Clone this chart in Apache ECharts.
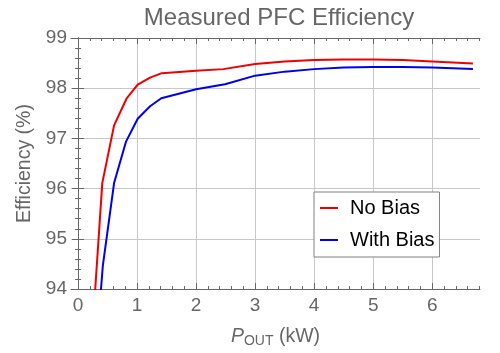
<!DOCTYPE html>
<html>
<head>
<meta charset="utf-8">
<script src="https://cdn.jsdelivr.net/npm/echarts@6/dist/echarts.min.js"></script>
<style>
  html, body { margin: 0; padding: 0; background: #fff; }
  #chart { width: 500px; height: 353px; }
</style>
</head>
<body>
<div id="chart"></div>
<script>
// measured efficiency curves (P_OUT in kW, efficiency in %)
const noBiasX = [0.2, 0.41, 0.61, 0.82, 1.01, 1.22, 1.42, 2.0, 2.46, 3.0, 3.5, 4.0, 4.5, 5.0, 5.5, 6.0, 6.69]
const noBiasY = [92.4, 96.11, 97.26, 97.79, 98.07, 98.21, 98.30, 98.35, 98.38, 98.48, 98.53, 98.56, 98.57, 98.57, 98.56, 98.53, 98.49]
const withBiasX = [0.3, 0.42, 0.61, 0.81, 1.01, 1.22, 1.41, 2.0, 2.49, 3.0, 3.5, 4.0, 4.5, 5.0, 5.5, 6.0, 6.69]
const withBiasY = [92.7, 94.47, 96.11, 96.93, 97.39, 97.64, 97.80, 97.98, 98.08, 98.25, 98.33, 98.38, 98.41, 98.42, 98.42, 98.41, 98.38]

const xMajor = [0, 1, 2, 3, 4, 5, 6]
const xMinor = []
for (let i = 0; i <= 34; i++) xMinor.push(+(i * 0.2).toFixed(1))

const gray = '#666'
const font = 'Liberation Sans, Arial, sans-serif'

const zip = (xs, ys) => xs.map((x, i) => [x, ys[i]])

const chart = echarts.init(document.getElementById('chart'))

// frame axes (Mathematica style ticks on all four sides)
const frameX = (pos, ticks, len, extra) => Object.assign({
  type: 'value',
  position: pos,
  min: -0.12,
  max: 6.81,
  axisLine: { show: true, onZero: false, lineStyle: { color: gray, width: 1 } },
  axisTick: { show: true, inside: true, length: len, customValues: ticks, lineStyle: { color: gray } },
  axisLabel: { show: false },
  splitLine: { show: false }
}, extra || {})

const frameY = (pos, extra) => Object.assign({
  type: 'value',
  position: pos,
  min: 94,
  max: 99,
  interval: 1,
  axisLine: { show: true, lineStyle: { color: gray, width: 1 } },
  axisTick: { show: true, inside: true, length: 6, lineStyle: { color: gray } },
  minorTick: { show: true, splitNumber: 5, length: 3, lineStyle: { color: gray } },
  axisLabel: { show: false },
  splitLine: { show: false }
}, extra || {})

chart.setOption({
  animation: false,
  backgroundColor: '#fff',
  textStyle: { fontFamily: font },
  title: {
    text: 'Measured PFC Efficiency',
    left: 274,
    textAlign: 'center',
    top: 1,
    textStyle: { fontSize: 24, fontWeight: 'normal', color: gray, fontFamily: font }
  },
  grid: { left: 71, right: 20, top: 38, bottom: 61 },
  legend: {
    orient: 'vertical',
    left: 314,
    top: 192,
    padding: [6, 5, 7, 6],
    itemGap: 12,
    itemWidth: 18,
    itemHeight: 2,
    icon: 'rect',
    borderColor: '#808080',
    borderWidth: 1,
    backgroundColor: '#fff',
    textStyle: { fontSize: 20, color: '#000', fontFamily: font, padding: [0, 0, 0, 7] },
    data: ['No Bias', 'With Bias']
  },
  xAxis: [
    frameX('bottom', xMajor, 6, {
      name: '{p|P}{s|OUT} (kW)',
      nameLocation: 'middle',
      nameGap: 37,
      nameTextStyle: {
        fontSize: 19.5, color: gray, fontFamily: font,
        rich: {
          p: { fontSize: 19.5, fontStyle: 'italic', color: gray, fontFamily: font },
          s: { fontSize: 14, color: gray, fontFamily: font, verticalAlign: 'bottom', padding: [8, 0, 0, 0] }
        }
      },
      axisLabel: { show: true, customValues: xMajor, fontSize: 19, color: gray, margin: 7, fontFamily: font },
      splitLine: { show: true, lineStyle: { color: '#c8c8c8', width: 1 } }
    }),
    frameX('bottom', xMinor, 3, { axisLine: { show: false } }),
    frameX('top', xMajor, 6),
    frameX('top', xMinor, 3, { axisLine: { show: false } })
  ],
  yAxis: [
    frameY('left', {
      name: 'Efficiency (%)',
      nameLocation: 'middle',
      nameGap: 32,
      nameTextStyle: { fontSize: 19.5, color: gray, fontFamily: font },
      axisLabel: { show: true, fontSize: 19, color: gray, margin: 4, fontFamily: font },
      splitLine: { show: true, lineStyle: { color: '#c8c8c8', width: 1 } }
    }),
    frameY('right')
  ],
  series: [
    {
      name: 'No Bias',
      type: 'line',
      data: zip(noBiasX, noBiasY),
      showSymbol: false,
      clip: true,
      lineStyle: { color: '#ee0000', width: 2 },
      itemStyle: { color: '#ee0000' }
    },
    {
      name: 'With Bias',
      type: 'line',
      data: zip(withBiasX, withBiasY),
      showSymbol: false,
      clip: true,
      lineStyle: { color: '#0000ee', width: 2 },
      itemStyle: { color: '#0000ee' }
    }
  ]
})
</script>
</body>
</html>
